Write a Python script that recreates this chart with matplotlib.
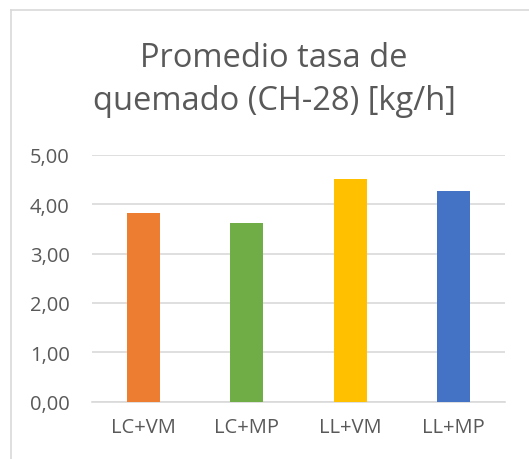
import numpy as np
import matplotlib.pyplot as plt
from matplotlib.lines import Line2D

categorias = ['LC+VM', 'LC+MP', 'LL+VM', 'LL+MP']
valores = [3.82, 3.62, 4.51, 4.26]
colores = ['#ED7D31', '#70AD47', '#FFC000', '#4472C4']
ticks_y = [0, 1, 2, 3, 4, 5]

plt.rcParams['font.family'] = ['Open Sans', 'DejaVu Sans']
gris = '#595959'

fig = plt.figure(figsize=(5.29, 4.60), dpi=100)
ax = fig.add_axes([92/529, 1 - 402.7/460, (505-92)/529, (402.7-155.7)/460])

x = np.arange(len(categorias))
ax.bar(x, valores, width=0.32, color=colores, zorder=3)
ax.set_xlim(-0.5, len(categorias) - 0.5)
ax.set_ylim(0, 5)
ax.set_yticks(ticks_y)
ax.set_yticklabels([('%.2f' % v).replace('.', ',') for v in ticks_y])
ax.set_xticks(x)
ax.set_xticklabels(categorias)
ax.tick_params(axis='y', length=0, pad=16, labelsize=14.5, labelcolor=gris)
ax.tick_params(axis='x', length=0, pad=11, labelsize=14.5, labelcolor=gris)
ax.yaxis.grid(True, color='#D9D9D9', linewidth=1.2, zorder=0)
for s in ['top', 'right', 'left']:
    ax.spines[s].set_visible(False)
ax.spines['bottom'].set_color('#D9D9D9')
ax.spines['bottom'].set_linewidth(1.2)

fig.text(274/529, 1 - 67/460, 'Promedio tasa de', ha='center', va='baseline',
         fontsize=23.5, color=gris)
fig.text(274/529, 1 - 110/460, 'quemado (CH-28) [kg/h]', ha='center', va='baseline',
         fontsize=23.5, color=gris)

# borde del área del gráfico
fig.add_artist(Line2D([11/529, 11/529], [0, 1 - 11/460], transform=fig.transFigure,
                      color='#D9D9D9', linewidth=1.2))
fig.add_artist(Line2D([11/529, 1], [1 - 11/460, 1 - 11/460], transform=fig.transFigure,
                      color='#D9D9D9', linewidth=1.2))

fig.savefig('out.png', dpi=100)
